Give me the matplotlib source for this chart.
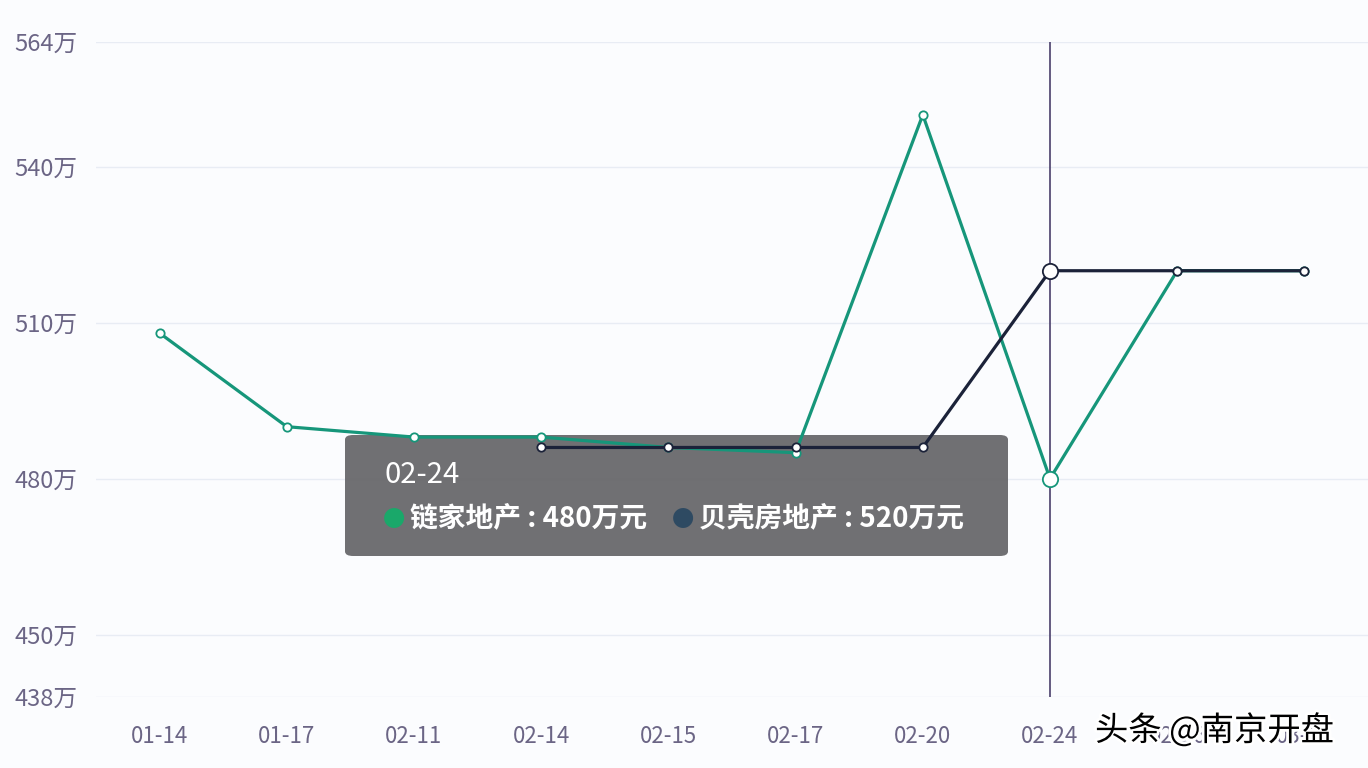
import matplotlib
matplotlib.use('Agg')
import matplotlib.pyplot as plt
import matplotlib.patheffects as pe
from matplotlib.patches import FancyBboxPatch

plt.rcParams['font.family'] = ['Noto Sans CJK SC', 'DejaVu Sans']

dates = ['01-14', '01-17', '02-11', '02-14', '02-15', '02-17', '02-20', '02-24', '02-26', '03-01']
lianjia = [508, 490, 488, 488, 486, 485, 550, 480, 520, 520]
beike = [None, None, None, 486, 486, 486, 486, 520, 520, 520]
yticks = [438, 450, 480, 510, 540, 564]
hover_idx = 7

green = '#16967a'
dark = '#1b2239'
label_color = '#6b6585'

fig = plt.figure(figsize=(13.68, 7.68), dpi=100, facecolor='#fbfcfe')
ax = fig.add_axes([96 / 1368, 1 - 697 / 768, 1 - 96 / 1368, (697 - 42) / 768])
ax.set_facecolor('#fbfcfe')

x = list(range(len(dates)))
bx = [i for i, v in zip(x, beike) if v is not None]
bv = [v for v in beike if v is not None]

ax.plot(x, lianjia, color=green, linewidth=2.3, marker='o', markersize=6,
        markerfacecolor='white', markeredgecolor=green, markeredgewidth=1.3, zorder=3)
ax.plot(bx, bv, color=dark, linewidth=2.3, marker='o', markersize=6,
        markerfacecolor='white', markeredgecolor=dark, markeredgewidth=1.3, zorder=4)

# hover state
ax.axvline(hover_idx, color='#4a3f6b', linewidth=1.2, zorder=2)
ax.plot(hover_idx, lianjia[hover_idx], 'o', markersize=11, markerfacecolor='white',
        markeredgecolor=green, markeredgewidth=1.3, zorder=5)
ax.plot(hover_idx, beike[hover_idx], 'o', markersize=11, markerfacecolor='white',
        markeredgecolor=dark, markeredgewidth=1.3, zorder=5)

ax.set_xlim(-0.5, len(dates) - 0.5)
ax.set_ylim(yticks[0], yticks[-1])
ax.set_xticks(x, dates)
ax.set_yticks(yticks, [f'{t}万' for t in yticks])
ax.tick_params(axis='x', length=0, pad=20, labelsize=16, labelcolor=label_color)
ax.tick_params(axis='y', length=0, pad=59, labelsize=17, labelcolor=label_color)
for lab in ax.get_yticklabels():
    lab.set_horizontalalignment('left')
ax.grid(axis='y', color='#e8ecf4', linewidth=1)
for s in ax.spines.values():
    s.set_visible(False)

# tooltip (sits above the grid, below the lines)
box = FancyBboxPatch((345 / 1368, 1 - 556 / 768), 663 / 1368, 121 / 768,
                     boxstyle='round,pad=0,rounding_size=0.006', transform=fig.transFigure,
                     facecolor='#6b6b6e', edgecolor='none', alpha=0.97, zorder=2.5,
                     clip_on=False)
ax.add_patch(box)
fig.text(385 / 1368, 1 - 475 / 768, dates[hover_idx], color='white', fontsize=21,
         fontweight='medium', va='center', ha='left', zorder=11)
fig.text(383 / 1368, 1 - 519 / 768, '●', color='#1aa86a', fontsize=16,
         va='center', ha='left', zorder=11)
fig.text(410 / 1368, 1 - 518 / 768, f'链家地产 : {lianjia[hover_idx]}万元', color='white',
         fontsize=20, fontweight='bold', va='center', ha='left', zorder=11)
fig.text(672 / 1368, 1 - 519 / 768, '●', color='#2e4a62', fontsize=16,
         va='center', ha='left', zorder=11)
fig.text(699 / 1368, 1 - 518 / 768, f'贝壳房地产 : {beike[hover_idx]}万元', color='white',
         fontsize=20, fontweight='bold', va='center', ha='left', zorder=11)

# watermark
fig.text(1095 / 1368, 1 - 731 / 768, '头条 @南京开盘', color='black', fontsize=24,
         va='center', ha='left', zorder=12,
         path_effects=[pe.withStroke(linewidth=4, foreground='white')])

fig.savefig('out.png', dpi=100, facecolor=fig.get_facecolor())
